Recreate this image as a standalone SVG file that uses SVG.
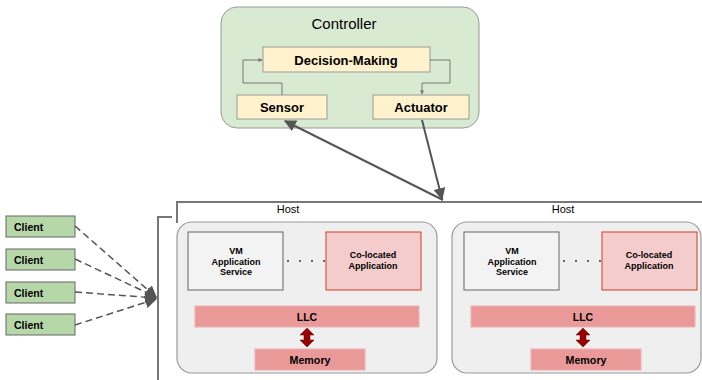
<svg xmlns="http://www.w3.org/2000/svg" width="702" height="380" viewBox="0 0 702 380">
<defs>
<marker id="ah" viewBox="0 0 10 10" refX="9" refY="5" markerWidth="6" markerHeight="6" orient="auto" markerUnits="strokeWidth"><path d="M0,0 L10,5 L0,10 z" fill="#555"/></marker>
<marker id="dh" viewBox="0 0 10 10" refX="9" refY="5" markerWidth="8" markerHeight="8" orient="auto" markerUnits="strokeWidth"><path d="M0,0 L10,5 L0,10 z" fill="#555"/></marker>
<marker id="sm" viewBox="0 0 10 10" refX="9" refY="5" markerWidth="4" markerHeight="4" orient="auto" markerUnits="strokeWidth"><path d="M0,0 L10,5 L0,10 z" fill="#777"/></marker>
</defs>
<style>
text{font-family:"Liberation Sans",Arial,sans-serif;text-anchor:middle;fill:#000}
.b{font-weight:bold}
.yel{fill:#fff2cc;stroke:#999;stroke-width:1}
.cli{fill:#b6d7a8;stroke:#666;stroke-width:1}
.host{fill:#efefef;stroke:#999;stroke-width:1.2}
.vm{fill:#f3f3f3;stroke:#666;stroke-width:1}
.co{fill:#f4cccc;stroke:#cc4125;stroke-width:1}
.llc{fill:#ea9999;stroke:#f0b0b0;stroke-width:1}
.thin{fill:none;stroke:#777;stroke-width:1}
.big{fill:none;stroke:#555;stroke-width:2}
.dash{fill:none;stroke:#555;stroke-width:1.5;stroke-dasharray:7 4}
.br{fill:none;stroke:#777;stroke-width:2}
.dots{fill:none;stroke:#666;stroke-width:2;stroke-dasharray:2 10}
</style>
<g id="controller">
<rect x="221" y="7" width="258" height="121" rx="16" fill="#d9ead3" stroke="#999" stroke-width="1"/>
<text x="344" y="29" font-size="15">Controller</text>
</g>
<g id="decision">
<rect class="yel" x="263" y="47" width="167" height="25"/>
<text class="b" x="346" y="64.5" font-size="13">Decision-Making</text>
</g>
<g id="sensor">
<rect class="yel" x="237" y="95" width="90" height="24"/>
<text class="b" x="282" y="112" font-size="13">Sensor</text>
</g>
<g id="actuator">
<rect class="yel" x="373" y="95" width="96" height="24"/>
<text class="b" x="421" y="112" font-size="13">Actuator</text>
</g>
<g id="clients">
<rect class="cli" x="6" y="216" width="69" height="21"/><text class="b" x="14" y="230.5" font-size="10.5" style="text-anchor:start">Client</text>
<rect class="cli" x="6" y="249" width="69" height="21"/><text class="b" x="14" y="263.5" font-size="10.5" style="text-anchor:start">Client</text>
<rect class="cli" x="6" y="282" width="69" height="21"/><text class="b" x="14" y="296.5" font-size="10.5" style="text-anchor:start">Client</text>
<rect class="cli" x="6" y="314" width="69" height="21"/><text class="b" x="14" y="328.5" font-size="10.5" style="text-anchor:start">Client</text>
</g>
<g id="host-brackets">
<path class="br" d="M172,217 H158 V380"/>
<path class="br" d="M177,223 V202 H702"/>
</g>
<g id="host1">
<rect class="host" x="177" y="222" width="260" height="151" rx="15"/>
<text x="288" y="213" font-size="11">Host</text>
<rect class="vm" x="188" y="232" width="95" height="58"/>
<text class="b" x="236" y="254" font-size="9">VM</text>
<text class="b" x="236" y="264.5" font-size="9">Application</text>
<text class="b" x="236" y="275" font-size="9">Service</text>
<rect class="co" x="326" y="232" width="95" height="58"/>
<text class="b" x="373" y="258" font-size="9">Co-located</text>
<text class="b" x="373" y="268.5" font-size="9">Application</text>
<rect class="llc" x="195" y="306" width="224" height="21"/>
<text class="b" x="307" y="321" font-size="10.5">LLC</text>
<rect class="llc" x="255" y="349" width="110" height="21"/>
<text class="b" x="310" y="364" font-size="10.7">Memory</text>
<path d="M307,328 L314,335 L310,335 L310,340 L314,340 L307,347 L300,340 L304,340 L304,335 L300,335 z" fill="#990000" stroke="#660000" stroke-width="0.5"/>
</g>
<g id="host2">
<rect class="host" x="452" y="222" width="249" height="151" rx="15"/>
<text x="563" y="213" font-size="11">Host</text>
<rect class="vm" x="464" y="232" width="95" height="58"/>
<text class="b" x="512" y="254" font-size="9">VM</text>
<text class="b" x="512" y="264.5" font-size="9">Application</text>
<text class="b" x="512" y="275" font-size="9">Service</text>
<rect class="co" x="602" y="232" width="95" height="58"/>
<text class="b" x="649" y="258" font-size="9">Co-located</text>
<text class="b" x="649" y="268.5" font-size="9">Application</text>
<rect class="llc" x="471" y="306" width="224" height="21"/>
<text class="b" x="583" y="321" font-size="10.5">LLC</text>
<rect class="llc" x="531" y="349" width="110" height="21"/>
<text class="b" x="586" y="364" font-size="10.7">Memory</text>
<path d="M583,328 L590,335 L586,335 L586,340 L590,340 L583,347 L576,340 L580,340 L580,335 L576,335 z" fill="#990000" stroke="#660000" stroke-width="0.5"/>
</g>
<g id="connectors">
<path class="thin" d="M282,95 V83 H243 V60 H262" marker-end="url(#sm)"/>
<path class="thin" d="M430,60 H450 V83 H422 V94" marker-end="url(#sm)"/>
<path class="big" d="M443,200 L285,121" marker-end="url(#ah)"/>
<path class="big" d="M422,120 L442,199" marker-end="url(#ah)"/>
<path class="dash" d="M75,226 L156,297" marker-end="url(#dh)"/>
<path class="dash" d="M75,259 L156,297" marker-end="url(#dh)"/>
<path class="dash" d="M75,292 L156,298" marker-end="url(#dh)"/>
<path class="dash" d="M75,325 L156,299" marker-end="url(#dh)"/>
<path class="dots" d="M287,261 H326"/>
<path class="dots" d="M563,261 H602"/>
</g>
</svg>
